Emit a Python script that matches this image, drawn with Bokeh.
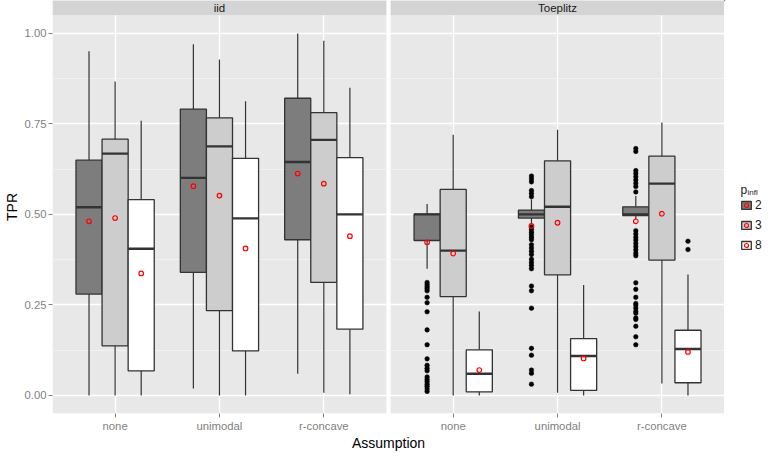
from bokeh.plotting import figure
from bokeh.layouts import row
from bokeh.models import (ColumnDataSource, FactorRange, FixedTicker, NumeralTickFormatter,
                          Range1d, Legend, LegendItem)
from bokeh.transform import dodge
from bokeh.core.properties import value
from bokeh.embed import file_html
from bokeh.resources import INLINE

# ---------------- data ----------------
facets = ["iid", "Toeplitz"]
assumptions = ["none", "unimodal", "r-concave"]
groups = ["2", "3", "8"]

# order: iid none, iid unimodal, iid r-concave, Toeplitz none, Toeplitz unimodal, Toeplitz r-concave
lower_2 = [0.000, 0.019, 0.060, 0.350, 0.472, 0.486]
q1_2 = [0.280, 0.340, 0.430, 0.428, 0.490, 0.497]
median_2 = [0.520, 0.601, 0.645, 0.500, 0.500, 0.500]
q3_2 = [0.650, 0.791, 0.821, 0.501, 0.512, 0.521]
upper_2 = [0.951, 0.970, 1.000, 0.529, 0.541, 0.551]
mean_2 = [0.481, 0.578, 0.613, 0.423, 0.468, 0.481]

lower_3 = [0.000, 0.000, 0.007, 0.000, 0.007, 0.033]
q1_3 = [0.137, 0.234, 0.312, 0.273, 0.333, 0.374]
median_3 = [0.668, 0.688, 0.706, 0.400, 0.521, 0.585]
q3_3 = [0.708, 0.767, 0.781, 0.569, 0.648, 0.661]
upper_3 = [0.867, 0.928, 0.980, 0.720, 0.734, 0.754]
mean_3 = [0.490, 0.552, 0.585, 0.392, 0.477, 0.502]

lower_8 = [0.000, 0.000, 0.003, 0.000, 0.000, 0.000]
q1_8 = [0.068, 0.123, 0.183, 0.010, 0.014, 0.035]
median_8 = [0.405, 0.489, 0.500, 0.060, 0.109, 0.128]
q3_8 = [0.541, 0.655, 0.657, 0.126, 0.157, 0.180]
upper_8 = [0.759, 0.813, 0.850, 0.232, 0.305, 0.334]
mean_8 = [0.337, 0.406, 0.440, 0.070, 0.102, 0.120]

# outliers
out2_toeplitz_none = [0.312, 0.306, 0.300, 0.295, 0.289, 0.271, 0.256, 0.231, 0.181, 0.140,
                      0.101, 0.083, 0.075, 0.068, 0.051, 0.044, 0.038, 0.031, 0.025, 0.018, 0.011]
out2_toeplitz_unimodal = [0.606, 0.598, 0.590, 0.566, 0.558, 0.549,
                          0.465, 0.458, 0.451, 0.444, 0.437, 0.430, 0.416, 0.407, 0.398, 0.389,
                          0.376, 0.367, 0.359, 0.350, 0.302, 0.289, 0.241, 0.130, 0.111, 0.070,
                          0.061, 0.031]
out2_toeplitz_rconcave = [0.682, 0.674, 0.621, 0.613, 0.604, 0.595, 0.586, 0.577, 0.562,
                          0.455, 0.446, 0.437, 0.429, 0.420, 0.411, 0.402, 0.393, 0.386,
                          0.311, 0.293, 0.271, 0.254, 0.249, 0.241, 0.232, 0.227, 0.214, 0.210,
                          0.191, 0.162, 0.140]
out8_toeplitz_rconcave = [0.426, 0.403]

y_ticks = [0.0, 0.25, 0.5, 0.75, 1.0]
y_minor = [0.125, 0.375, 0.625, 0.875]

# ---------------- main figure ----------------
FONT = "Liberation Sans"
MAIN_W, LEG_W, H = 724, 39, 453
x_factors = [(f, a) for f in facets for a in assumptions]
GROUP_PAD = 0.24
xr = FactorRange(*x_factors, group_padding=GROUP_PAD, factor_padding=0.0,
                 range_padding=0.2 / (6 + GROUP_PAD), range_padding_units="percent")
STRIP = 0.041
yr = Range1d(-0.05, 1.05 + STRIP)

p = figure(width=MAIN_W, height=H, x_range=xr, y_range=yr, output_backend="svg",
           toolbar_location=None, min_border_left=0, min_border_right=0,
           min_border_top=0, min_border_bottom=0)
p.outline_line_color = None
p.background_fill_color = "white"
p.border_fill_color = "white"

yax = p.yaxis[0]
yax.ticker = FixedTicker(ticks=y_ticks, minor_ticks=y_minor)
yax.formatter = NumeralTickFormatter(format="0.00")
yax.axis_line_color = None
yax.major_tick_line_color = "#7f7f7f"
yax.major_tick_out = 4
yax.major_tick_in = 0
yax.minor_tick_line_color = None
yax.major_label_text_color = "#7f7f7f"
yax.major_label_text_font_size = "11.3px"
yax.major_label_text_font = FONT
yax.major_label_standoff = 2
yax.axis_label = "TPR"
yax.axis_label_text_font = FONT
yax.axis_label_text_font_style = "normal"
yax.axis_label_text_font_size = "14px"
yax.axis_label_text_color = "black"
yax.axis_label_standoff = 2

xax = p.xaxis[0]
xax.group_text_font_size = "0px"
xax.group_text_color = None
xax.separator_line_color = None
xax.axis_line_color = None
xax.major_tick_line_color = "#7f7f7f"
xax.major_tick_out = 4
xax.major_tick_in = 0
xax.minor_tick_line_color = None
xax.major_label_text_color = "#7f7f7f"
xax.major_label_text_font_size = "11.3px"
xax.major_label_text_font = FONT
xax.major_label_standoff = 2
xax.major_label_orientation = "horizontal"
xax.axis_label = "Assumption"
xax.axis_label_text_font = FONT
xax.axis_label_text_font_style = "normal"
xax.axis_label_text_font_size = "14px"
xax.axis_label_text_color = "black"
xax.axis_label_standoff = 0

p.ygrid.grid_line_color = "white"
p.ygrid.grid_line_width = 1.4
p.ygrid.minor_grid_line_color = "#f4f4f4"
p.ygrid.minor_grid_line_width = 0.8
p.xgrid.grid_line_color = "white"
p.xgrid.grid_line_width = 1.4

# panels and strips
panel_src = ColumnDataSource(dict(x=[(f, "unimodal") for f in facets], facet=facets))
p.rect(x="x", y=0.5, width=3.2, height=1.1, source=panel_src,
       fill_color="#e8e8e8", line_color=None, level="image")
p.rect(x="x", y=1.05 + STRIP, width=3.2, height=2 * STRIP, source=panel_src,
       fill_color="#d4d4d4", line_color=None)
p.text(x="x", y=1.05 + STRIP / 2, text="facet", source=panel_src,
       text_align="center", text_baseline="middle", text_font=value(FONT),
       text_font_size="11.5px", text_color="#1a1a1a")

stats = {
    "2": (lower_2, q1_2, median_2, q3_2, upper_2, mean_2),
    "3": (lower_3, q1_3, median_3, q3_3, upper_3, mean_3),
    "8": (lower_8, q1_8, median_8, q3_8, upper_8, mean_8),
}
outliers = {
    "2": [(("Toeplitz", "none"), out2_toeplitz_none),
          (("Toeplitz", "unimodal"), out2_toeplitz_unimodal),
          (("Toeplitz", "r-concave"), out2_toeplitz_rconcave)],
    "3": [],
    "8": [(("Toeplitz", "r-concave"), out8_toeplitz_rconcave)],
}
offsets = {"2": -0.25, "3": 0.0, "8": 0.25}
fills = {"2": "#7d7d7d", "3": "#cdcdcd", "8": "#ffffff"}
EDGE = "#333333"
BW = 0.25
MEAN_STYLE = dict(marker="circle", size=4.6, fill_color=None, line_color="red", line_width=1.2)

srcs = {}
for g in groups:
    lo, q1, md, q3, hi, mn = stats[g]
    src = ColumnDataSource(dict(x=x_factors, lo=lo, q1=q1, md=md, q3=q3, hi=hi, mn=mn))
    srcs[g] = src
    off = offsets[g]
    xd = dodge("x", off, range=xr)
    p.segment(x0=xd, y0="lo", x1=xd, y1="hi", source=src, line_color=EDGE, line_width=1.2)
    p.vbar(x=xd, width=BW, bottom="q1", top="q3", source=src,
           fill_color=fills[g], line_color=EDGE, line_width=1.3)
    p.segment(x0=dodge("x", off - BW / 2, range=xr), y0="md",
              x1=dodge("x", off + BW / 2, range=xr), y1="md",
              source=src, line_color=EDGE, line_width=2.4)

for g in groups:
    xs, ys = [], []
    for fac, vals in outliers[g]:
        xs += [fac] * len(vals)
        ys += vals
    if xs:
        osrc = ColumnDataSource(dict(x=xs, y=ys))
        p.scatter(x=dodge("x", offsets[g], range=xr), y="y", source=osrc, marker="circle",
                  size=4.6, fill_color="black", line_color="black", line_width=0.5)

for g in groups:
    p.scatter(x=dodge("x", offsets[g], range=xr), y="mn", source=srcs[g], **MEAN_STYLE)

# ---------------- legend panel (separate small canvas, pixel coordinates) ----------------
FH = 414  # approximate frame height (frames of the row are aligned)
lg = figure(width=LEG_W, height=H, x_range=Range1d(0, LEG_W), y_range=Range1d(FH, 0),
            output_backend="svg", toolbar_location=None, x_axis_location=None,
            y_axis_location=None, min_border=0)
lg.outline_line_color = None
lg.grid.visible = False
lg.background_fill_color = "white"
lg.border_fill_color = "white"

items = []
for g in groups:
    # keys only: glyphs kept outside the visible range, the legend draws their swatches
    ksrc = ColumnDataSource(dict(x=[-100], top=[-100], bottom=[-110]))
    kb = lg.vbar(x="x", width=10, top="top", bottom="bottom", source=ksrc,
                 fill_color=fills[g], line_color=EDGE, line_width=1.3)
    km = lg.scatter(x="x", y="top", source=ksrc, **MEAN_STYLE)
    items.append(LegendItem(label=g, renderers=[kb, km]))

KEY_X, LEG_TOP = 16, 196
legend = Legend(items=items, location=(KEY_X, FH - LEG_TOP - 60), glyph_width=12,
                glyph_height=10, label_standoff=3, spacing=0, label_height=20, label_width=8,
                padding=0, margin=0, border_line_color=None, background_fill_alpha=0,
                label_text_font_size="12px", label_text_font=FONT, label_text_color="#1a1a1a")
lg.add_layout(legend)

title_src = ColumnDataSource(dict(x=[KEY_X, KEY_X + 7], y=[LEG_TOP - 6, LEG_TOP - 4],
                                  t=["p", "infl"], s=["12px", "8px"]))
lg.text(x="x", y="y", text="t", source=title_src, text_font_size="s",
        text_font=value(FONT), text_color="#1a1a1a", text_baseline="alphabetic")

layout = row(p, lg, spacing=0)
open("out.html", "w").write(file_html(layout, INLINE))
